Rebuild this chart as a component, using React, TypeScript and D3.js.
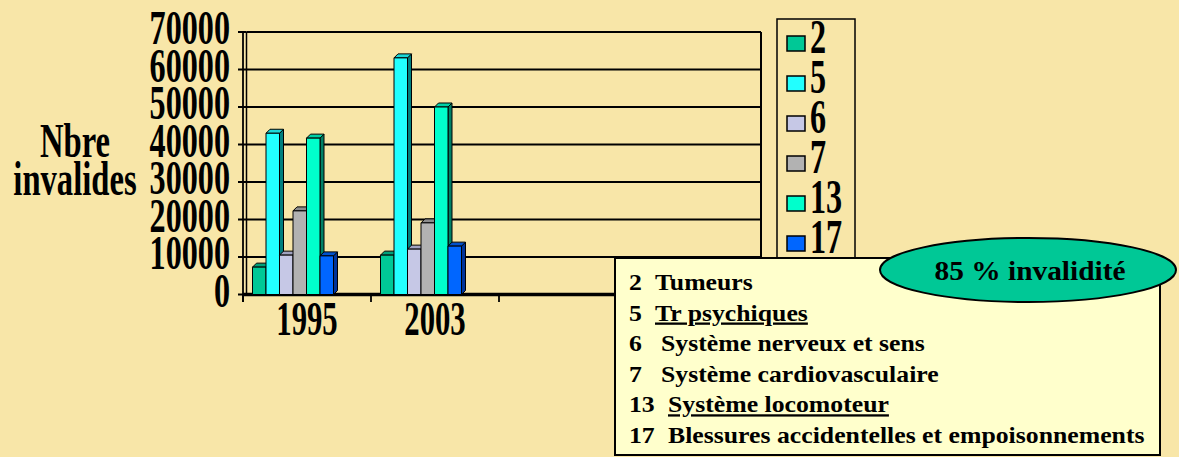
import React, { useEffect, useRef } from "react";
import * as d3 from "d3";

// data
const categories = ["1995", "2003", " ", "  "];
const seriesKeys = ["2", "5", "6", "7", "13", "17"];
const values1995 = [7300, 43000, 10500, 22300, 41700, 10300];
const values2003 = [10500, 63100, 12100, 19100, 50000, 12900];
const yTicks = [0, 10000, 20000, 30000, 40000, 50000, 60000, 70000];

const faceColors = ["#00C896", "#22FFFF", "#C6C8E6", "#B2B2B2", "#00FFCC", "#0066FF"];
const sideColors = ["#006B50", "#007F7F", "#6E6E8C", "#5C5C5C", "#008066", "#003399"];
const topColors = ["#00A07A", "#1CD8D8", "#A0A2C0", "#8C8C8C", "#00D0A6", "#0050CC"];

const noteNums = ["2", "5", "6", "7", "13", "17"];
const noteLabels = [
  "Tumeurs",
  "Tr psychiques",
  "Système nerveux et sens",
  "Système cardiovasculaire",
  "Système locomoteur",
  "Blessures accidentelles et empoisonnements",
];
const noteUnderlined = [false, true, false, false, true, false];
const highlight = "85 % invalidité";

const BG = "#F8E6A8";
const FONT = "Liberation Serif, Tinos, DejaVu Serif, Noto Serif, serif";

export default function App() {
  const ref = useRef<SVGSVGElement | null>(null);

  useEffect(() => {
    document.body.style.margin = "0";
    const svg = d3.select(ref.current);
    svg.selectAll("*").remove();

    const W = 1179;
    const H = 457;
    svg.attr("width", W).attr("height", H).style("display", "block");
    svg.append("rect").attr("width", W).attr("height", H).attr("fill", BG);

    // squeezed bold text, like the original slide
    const txt = (
      g: any, x: number, y: number, s: string, size: number, sx: number, anchor = "start"
    ) =>
      g.append("text")
        .attr("transform", `translate(${x},${y}) scale(${sx},1)`)
        .attr("text-anchor", anchor)
        .style("font-family", FONT)
        .style("font-weight", "bold")
        .style("font-size", size + "px")
        .attr("fill", "#000")
        .text(s);

    const plotLeft = 243;
    const plotRight = 761;
    const back = 3.5;

    const x0 = d3.scaleBand().domain(categories).range([plotLeft, plotLeft + 512]);
    const x1 = d3.scaleBand().domain(seriesKeys).range([9.5, 90.5]);
    const y = d3.scaleLinear().domain([0, 70000]).range([294.5, 32]);

    const g = svg.append("g");

    // gridlines on back wall
    yTicks.forEach(t => {
      g.append("line")
        .attr("x1", plotLeft + back).attr("x2", plotRight)
        .attr("y1", y(t)).attr("y2", y(t))
        .attr("stroke", "#000").attr("stroke-width", 2);
      g.append("line")
        .attr("x1", plotLeft - 5).attr("x2", plotLeft + back)
        .attr("y1", y(t)).attr("y2", y(t))
        .attr("stroke", "#000").attr("stroke-width", 2);
      txt(g, 230, y(t) + 12, String(t), 48, 0.67, "end");
    });

    // walls
    g.append("line").attr("x1", plotLeft).attr("x2", plotLeft)
      .attr("y1", y(70000) + 1).attr("y2", 302).attr("stroke", "#000").attr("stroke-width", 1.8);
    g.append("line").attr("x1", plotLeft + back).attr("x2", plotLeft + back)
      .attr("y1", y(70000)).attr("y2", y(0)).attr("stroke", "#000").attr("stroke-width", 1.5);
    g.append("line").attr("x1", plotRight).attr("x2", plotRight)
      .attr("y1", y(70000)).attr("y2", y(0)).attr("stroke", "#000").attr("stroke-width", 2);

    // floor
    g.append("line").attr("x1", plotLeft).attr("x2", plotRight + 2)
      .attr("y1", y(0)).attr("y2", y(0)).attr("stroke", "#000").attr("stroke-width", 3.5);

    // category ticks
    d3.range(categories.length + 1).forEach(i => {
      const xx = plotLeft + i * x0.bandwidth();
      g.append("line").attr("x1", xx).attr("x2", xx)
        .attr("y1", y(0)).attr("y2", 302).attr("stroke", "#000").attr("stroke-width", 1.8);
    });

    // 3D columns
    const dx = 4;
    const dy = -4;
    const groups = [values1995, values2003];
    groups.forEach((vals, gi) => {
      const cx = x0(categories[gi]) as number;
      vals.forEach((v, i) => {
        const xl = cx + (x1(seriesKeys[i]) as number);
        const xr = xl + x1.bandwidth();
        const yt = y(v);
        const yb = y(0);
        const bar = g.append("g").attr("stroke", "#000").attr("stroke-width", 1).attr("stroke-linejoin", "round");
        bar.append("polygon")
          .attr("points", `${xr},${yt} ${xr + dx},${yt + dy} ${xr + dx},${yb + dy} ${xr},${yb}`)
          .attr("fill", sideColors[i]);
        bar.append("polygon")
          .attr("points", `${xl},${yt} ${xl + dx},${yt + dy} ${xr + dx},${yt + dy} ${xr},${yt}`)
          .attr("fill", topColors[i]);
        bar.append("rect")
          .attr("x", xl).attr("y", yt)
          .attr("width", xr - xl).attr("height", yb - yt)
          .attr("fill", faceColors[i]);
      });
    });

    // category labels
    categories.forEach(c => {
      if (c.trim() === "") return;
      txt(g, (x0(c) as number) + x0.bandwidth() / 2, 335, c, 48, 0.64, "middle");
    });

    // axis title
    txt(g, 75, 157, "Nbre", 48, 0.68, "middle");
    txt(g, 75, 195, "invalides", 48, 0.68, "middle");

    // legend
    const lg = svg.append("g");
    lg.append("rect").attr("x", 777).attr("y", 19).attr("width", 78).attr("height", 250)
      .attr("fill", BG).attr("stroke", "#000").attr("stroke-width", 1.5);
    const ly = d3.scalePoint().domain(seriesKeys).range([43, 243]);
    seriesKeys.forEach((k, i) => {
      const yy = ly(k) as number;
      lg.append("rect").attr("x", 787).attr("y", yy - 7).attr("width", 18).attr("height", 15)
        .attr("fill", faceColors[i]).attr("stroke", "#000").attr("stroke-width", 1.5);
      txt(lg, 810, yy + 10, k, 48, 0.67);
    });

    // notes box
    const nb = svg.append("g");
    nb.append("rect").attr("x", 615).attr("y", 258).attr("width", 545).attr("height", 197)
      .attr("fill", "#FFFFCC").attr("stroke", "#000").attr("stroke-width", 2);
    const ny = d3.scalePoint().domain(noteNums).range([290, 443]);
    noteNums.forEach((n, i) => {
      const yy = ny(n) as number;
      txt(nb, 629, yy, n, 23, 1.12);
      const lx = n.length > 1 ? 668 : (i < 2 ? 655 : 661);
      const t = txt(nb, lx, yy, noteLabels[i], 23, 1.12);
      if (noteUnderlined[i]) t.style("text-decoration", "underline");
    });

    // highlight ellipse
    svg.append("ellipse").attr("cx", 1028).attr("cy", 270).attr("rx", 148).attr("ry", 32)
      .attr("fill", "#00C896").attr("stroke", "#000").attr("stroke-width", 2);
    txt(svg, 1030, 280, highlight, 28, 1.05, "middle");
  }, []);

  return <svg ref={ref}></svg>;
}
